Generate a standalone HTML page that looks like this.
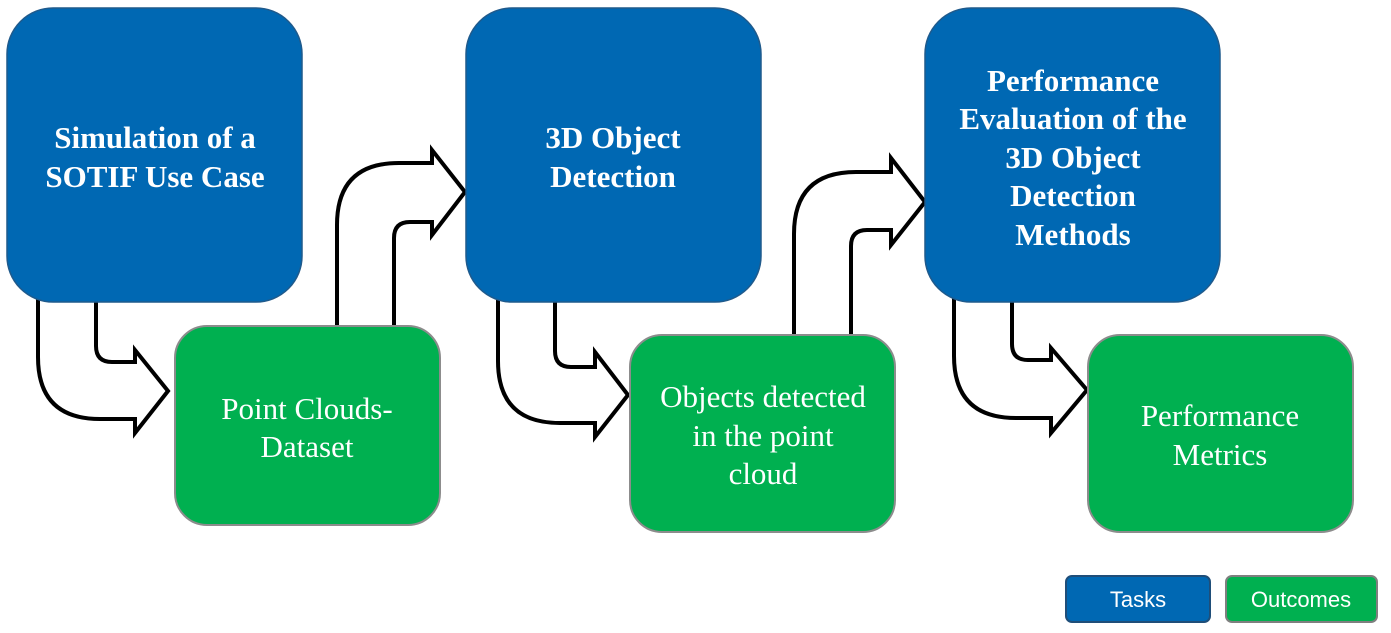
<!DOCTYPE html>
<html><head><style>
body{margin:0;background:#fff;}
svg{display:block;}
.t{font-family:"Liberation Serif",serif;font-weight:bold;font-size:31px;fill:#fff;text-anchor:middle;}
.g{font-family:"Liberation Serif",serif;font-size:31px;fill:#fff;text-anchor:middle;}
.l{font-family:"Liberation Sans",sans-serif;font-size:22px;fill:#fff;text-anchor:middle;}
</style></head><body>
<svg width="1391" height="633" viewBox="0 0 1391 633" xmlns="http://www.w3.org/2000/svg">
<g fill="#fff" stroke="#000" stroke-width="4" stroke-linejoin="miter">
<path d="M38,295 L96,295 L96,346 Q96,362 112,362 L135,362 L135,350 L168,391 L135,433 L135,419 L100,419 Q38,419 38,357 Z"/>
<path d="M337,330 L337,225 Q337,163 399,163 L432,163 L432,150 L465,192 L432,235 L432,222 L410,222 Q394,222 394,238 L394,330 Z"/>
<path d="M498,295 L555,295 L555,351 Q555,367 571,367 L595,367 L595,352 L628,395 L595,437 L595,423 L560,423 Q498,423 498,361 Z"/>
<path d="M794,340 L794,234 Q794,172 856,172 L891,172 L891,158 L925,202 L891,245 L891,230 L867,230 Q851,230 851,246 L851,340 Z"/>
<path d="M954,295 L1012,295 L1012,344 Q1012,360 1028,360 L1051,360 L1051,348 L1087,390 L1051,433 L1051,418 L1016,418 Q954,418 954,356 Z"/>
</g>
<g fill="#0068b3" stroke="#1f5a8c" stroke-width="1.5">
<rect x="7" y="8" width="295" height="294" rx="46"/>
<rect x="466" y="8" width="295" height="294" rx="46"/>
<rect x="925" y="8" width="295" height="294" rx="46"/>
</g>
<g fill="#00b050" stroke="#8c8c8c" stroke-width="2">
<rect x="175" y="326" width="265" height="199" rx="32"/>
<rect x="630" y="335" width="265" height="197" rx="32"/>
<rect x="1088" y="335" width="265" height="197" rx="32"/>
</g>
<text class="t" x="155" y="148">Simulation of a</text>
<text class="t" x="155" y="187">SOTIF Use Case</text>
<text class="t" x="613" y="148">3D Object</text>
<text class="t" x="613" y="187">Detection</text>
<text class="t" x="1073" y="91">Performance</text>
<text class="t" x="1073" y="129">Evaluation of the</text>
<text class="t" x="1073" y="168">3D Object</text>
<text class="t" x="1073" y="206">Detection</text>
<text class="t" x="1073" y="245">Methods</text>
<text class="g" x="307" y="419">Point Clouds-</text>
<text class="g" x="307" y="457">Dataset</text>
<text class="g" x="763" y="407">Objects detected</text>
<text class="g" x="763" y="446">in the point</text>
<text class="g" x="763" y="484">cloud</text>
<text class="g" x="1220" y="426">Performance</text>
<text class="g" x="1220" y="465">Metrics</text>
<rect x="1066" y="576" width="144" height="46" rx="6" fill="#0068b3" stroke="#1f4e79" stroke-width="2"/>
<rect x="1226" y="576" width="151" height="46" rx="6" fill="#00b050" stroke="#7f7f7f" stroke-width="2"/>
<text class="l" x="1138" y="607">Tasks</text>
<text class="l" x="1301" y="607">Outcomes</text>
</svg>
</body></html>
